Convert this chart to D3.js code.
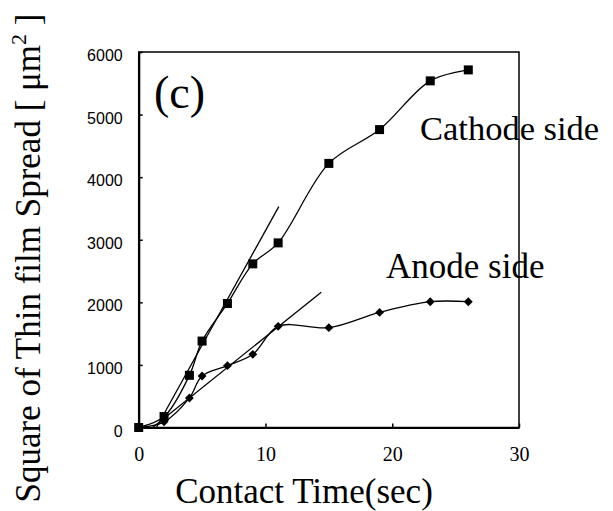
<!DOCTYPE html>
<html><head><meta charset="utf-8">
<script src="https://cdn.jsdelivr.net/npm/d3@7"></script>
<style>body{margin:0;background:#fff}svg{display:block}</style>
</head><body>
<svg id="c" width="613" height="511"></svg>
<script>
const time = [0, 2, 4, 5, 7, 9, 11, 15, 19, 23, 26];
const cathode = [0, 175, 834, 1381, 1982, 2615, 2950, 4220, 4760, 5539, 5714];
const anode = [0, 90, 472, 823, 988, 1169, 1616, 1595, 1839, 2010, 2010];
const cathodeFitT = [1.4, 11.05];
const cathodeFitV = [0, 3530];
const anodeFitT = [1.1, 14.4];
const anodeFitV = [0, 2163];
const xTicks = [0, 10, 20, 30];
const yTicks = [0, 1000, 2000, 3000, 4000, 5000, 6000];

const svg = d3.select("#c");
const L = 138.7, R = 519, T = 52, B = 427.5;
const x = d3.scaleLinear().domain([0, 30]).range([L, R]);
const y = d3.scaleLinear().domain([0, 6000]).range([B, T]);

// frame
svg.append("rect").attr("x", L).attr("y", T).attr("width", R - L).attr("height", B - T)
  .attr("fill", "none").attr("stroke", "#000").attr("stroke-width", 1.5);

// axes
const xAxis = d3.axisBottom(x).tickValues(xTicks).tickSizeInner(-4).tickSizeOuter(0).tickPadding(0).tickFormat(d3.format("d"));
const gx = svg.append("g").attr("transform", `translate(0,${B})`).call(xAxis);
gx.select(".domain").attr("stroke-width", 2.2);
gx.selectAll(".tick line").attr("stroke-width", 1.5);
gx.selectAll(".tick text").attr("font-family", "'Liberation Serif', 'Times New Roman', serif")
  .attr("font-size", 20).attr("fill", "#000").attr("dy", null).attr("y", 33);

const yAxis = d3.axisLeft(y).tickValues(yTicks).tickSizeInner(-4).tickSizeOuter(0).tickPadding(0).tickFormat(d3.format("d"));
const gy = svg.append("g").attr("transform", `translate(${L},0)`).call(yAxis);
gy.select(".domain").attr("stroke-width", 2.2);
gy.selectAll(".tick line").attr("stroke-width", 1.5);
gy.selectAll(".tick text").attr("font-family", "'Liberation Sans', Arial, sans-serif")
  .attr("font-size", 16).attr("fill", "#000").attr("x", -16).attr("dy", null).attr("y", 8.5);

// series
const line = d3.line().x(d => x(d[0])).y(d => y(d[1])).curve(d3.curveCatmullRom.alpha(0.5));
const cData = time.map((t, i) => [t, cathode[i]]);
const aData = time.map((t, i) => [t, anode[i]]);
svg.append("path").datum(cData).attr("d", line).attr("fill", "none").attr("stroke", "#000").attr("stroke-width", 1.3);
svg.append("path").datum(aData).attr("d", line).attr("fill", "none").attr("stroke", "#000").attr("stroke-width", 1.3);

// fit lines
const straight = d3.line().x(d => x(d[0])).y(d => y(d[1]));
svg.append("path").datum(cathodeFitT.map((t, i) => [t, cathodeFitV[i]])).attr("d", straight)
  .attr("fill", "none").attr("stroke", "#000").attr("stroke-width", 1.3);
svg.append("path").datum(anodeFitT.map((t, i) => [t, anodeFitV[i]])).attr("d", straight)
  .attr("fill", "none").attr("stroke", "#000").attr("stroke-width", 1.3);

// markers
svg.append("g").selectAll("rect").data(cData).join("rect")
  .attr("x", d => x(d[0]) - 4.5).attr("y", d => y(d[1]) - 4.5).attr("width", 9).attr("height", 9).attr("fill", "#000");
const diamond = d3.symbol().type(d3.symbolDiamond2).size(50);
svg.append("g").selectAll("path").data(aData).join("path")
  .attr("transform", d => `translate(${x(d[0])},${y(d[1])})`).attr("d", diamond).attr("fill", "#000");

// texts
const serif = "'Liberation Serif', 'Times New Roman', serif";
svg.append("text").attr("x", 154).attr("y", 108).attr("font-family", serif).attr("font-size", 46).text("(c)");
svg.append("text").attr("x", 420).attr("y", 140).attr("font-family", serif).attr("font-size", 34.5).text("Cathode side");
svg.append("text").attr("x", 386).attr("y", 278).attr("font-family", serif).attr("font-size", 35).text("Anode side");
svg.append("text").attr("x", 304).attr("y", 503).attr("text-anchor", "middle").attr("font-family", serif).attr("font-size", 35).text("Contact Time(sec)");
const yt = svg.append("text").attr("transform", "translate(40,258) rotate(-90)").attr("text-anchor", "middle")
  .attr("font-family", serif).attr("font-size", 35);
yt.append("tspan").text("Square of Thin film Spread [ μm");
yt.append("tspan").attr("font-size", 22).attr("dy", -14).text("2");
yt.append("tspan").attr("dy", 14).text(" ]");
</script>
</body></html>
